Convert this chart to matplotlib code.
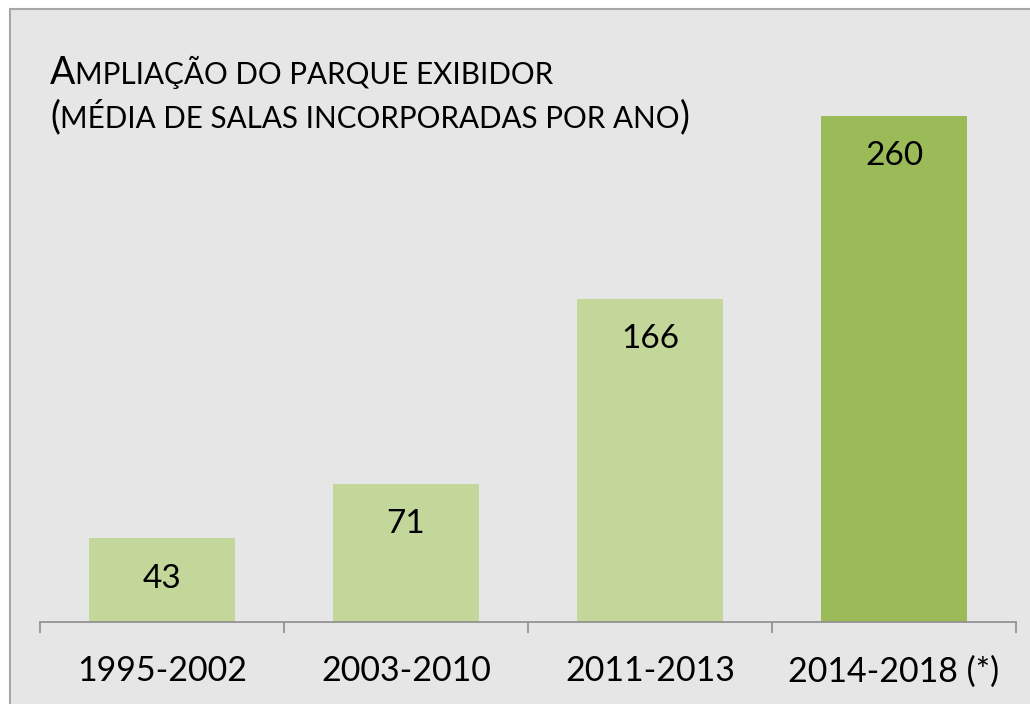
from matplotlib import pyplot as plt
from matplotlib.patches import Rectangle

periods = ['1995-2002', '2003-2010', '2011-2013', '2014-2018 (*)']
salas = [43, 71, 166, 260]
colors = ['#c4d79b', '#c4d79b', '#c4d79b', '#9bbb59']

plt.rcParams['font.family'] = ['Lato', 'DejaVu Sans']

W, H = 1030, 704
fig = plt.figure(figsize=(W / 100, H / 100), dpi=100, facecolor='white')

# painel cinza com borda (só esquerda e topo visíveis)
fig.patches.append(Rectangle((10 / W, -0.1), 1.2, (H - 9) / H + 0.1,
                             transform=fig.transFigure, facecolor='#e6e6e6',
                             edgecolor='#a6a6a6', linewidth=1.5, zorder=-10))

ax = fig.add_axes([40 / W, (H - 622) / H, 976 / W, 602 / H])
ax.set_facecolor('none')
x = range(len(periods))
ax.bar(x, salas, width=0.6, color=colors)
ax.set_xlim(-0.5, len(periods) - 0.5)
ax.set_ylim(0, 602 / (506 / 260))

for i, v in enumerate(salas):
    ax.annotate(str(v), (i, v), xytext=(0, -29), textcoords='offset points',
                ha='center', va='center', fontsize=24, color='black')

for s in ['top', 'right', 'left']:
    ax.spines[s].set_visible(False)
ax.spines['bottom'].set_color('#8c8c8c')
ax.spines['bottom'].set_linewidth(1.2)
ax.set_yticks([])
ax.set_xticks(list(x))
ax.set_xticklabels(periods, fontsize=24.5)
ax.tick_params(axis='x', which='major', length=0, pad=24)
ax.set_xticks([i - 0.5 for i in range(len(periods) + 1)], minor=True)
ax.tick_params(axis='x', which='minor', length=8, width=1.2, color='#8c8c8c',
               direction='out')

# título em versaletes
big, small = 27, 21.3
renderer = fig.canvas.get_renderer()


def line(parts, x0, y0):
    xp = x0
    for txt, size in parts:
        t = fig.text(xp / W, 1 - y0 / H, txt, fontsize=size, color='black',
                     ha='left', va='baseline')
        bb = t.get_window_extent(renderer)
        xp += bb.width


line([('A', big), ('MPLIAÇÃO DO PARQUE EXIBIDOR', small)], 50, 84)
line([('(', big), ('MÉDIA DE SALAS INCORPORADAS POR ANO', small), (')', big)], 50, 128)

fig.savefig('out.png', dpi=100)
